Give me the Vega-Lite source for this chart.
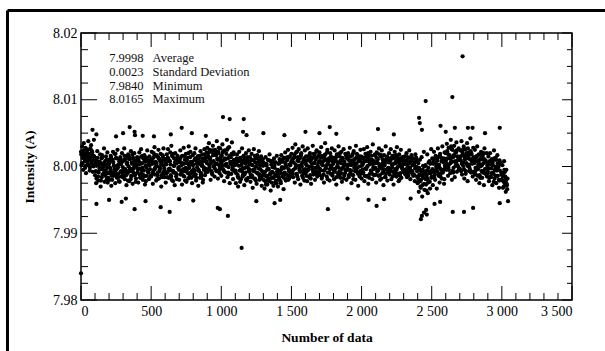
{
"$schema": "https://vega.github.io/schema/vega-lite/v6.json",
"width": 491, "height": 267,
"autosize": "none",
"padding": {"left": 81, "top": 33, "right": 33, "bottom": 51},
"background": "white",
"config": {
 "view": {"stroke": "black", "strokeWidth": 1.5},
 "axis": {"domain": false, "grid": false, "ticks": false, "labelColor": "black", "labelFont": "Liberation Serif", "labelFontSize": 14, "titleFont": "Liberation Serif", "titleFontSize": 13.5, "titleFontWeight": "bold", "titleColor": "black"}
},
"datasets": {
"pts": [
{"n":0,"v":8.0022},{"n":4,"v":8.0002},{"n":8,"v":8.0030},{"n":12,"v":8.0013},{"n":16,"v":7.9995},{"n":20,"v":8.0035},{"n":24,"v":8.0017},{"n":28,"v":8.0008},{"n":32,"v":8.0028},{"n":36,"v":7.9990},{"n":40,"v":8.0015},{"n":44,"v":8.0024},{"n":48,"v":8.0004},{"n":52,"v":8.0038},{"n":56,"v":8.0010},{"n":60,"v":8.0019},{"n":64,"v":7.9998},{"n":68,"v":8.0026},{"n":72,"v":8.0032},{"n":76,"v":8.0006},{"n":80,"v":8.0021},{"n":84,"v":7.9992},{"n":88,"v":8.0016},{"n":92,"v":8.0040},{"n":96,"v":8.0009},
{"n":100,"v":7.9987},{"n":104,"v":8.0012},{"n":108,"v":7.9975},{"n":112,"v":8.0001},{"n":116,"v":8.0023},{"n":120,"v":7.9992},{"n":124,"v":7.9979},{"n":128,"v":8.0006},{"n":132,"v":7.9997},{"n":136,"v":8.0018},{"n":140,"v":7.9970},{"n":144,"v":8.0004},{"n":148,"v":7.9984},{"n":152,"v":8.0014},{"n":156,"v":7.9999},{"n":160,"v":7.9989},{"n":164,"v":8.0027},{"n":168,"v":7.9977},{"n":172,"v":8.0008},{"n":176,"v":7.9994},{"n":180,"v":8.0003},{"n":184,"v":7.9981},{"n":188,"v":8.0021},{"n":192,"v":7.9990},{"n":196,"v":8.0010},
{"n":200,"v":8.0005},{"n":204,"v":7.9980},{"n":208,"v":7.9998},{"n":212,"v":8.0016},{"n":216,"v":7.9971},{"n":220,"v":8.0010},{"n":224,"v":7.9991},{"n":228,"v":8.0022},{"n":232,"v":7.9986},{"n":236,"v":8.0001},{"n":240,"v":8.0019},{"n":244,"v":7.9975},{"n":248,"v":7.9994},{"n":252,"v":8.0012},{"n":256,"v":7.9983},{"n":260,"v":8.0025},{"n":264,"v":7.9999},{"n":268,"v":7.9989},{"n":272,"v":8.0008},{"n":276,"v":7.9977},{"n":280,"v":8.0014},{"n":284,"v":8.0003},{"n":288,"v":7.9985},{"n":292,"v":8.0020},{"n":296,"v":7.9992},
{"n":300,"v":7.9988},{"n":304,"v":8.0009},{"n":308,"v":8.0027},{"n":312,"v":7.9981},{"n":316,"v":7.9996},{"n":320,"v":8.0015},{"n":324,"v":7.9972},{"n":328,"v":8.0006},{"n":332,"v":7.9990},{"n":336,"v":8.0018},{"n":340,"v":8.0000},{"n":344,"v":7.9978},{"n":348,"v":8.0011},{"n":352,"v":7.9993},{"n":356,"v":8.0023},{"n":360,"v":7.9985},{"n":364,"v":8.0004},{"n":368,"v":7.9974},{"n":372,"v":8.0013},{"n":376,"v":7.9998},{"n":380,"v":8.0020},{"n":384,"v":7.9987},{"n":388,"v":8.0007},{"n":392,"v":7.9982},{"n":396,"v":8.0002},
{"n":400,"v":8.0014},{"n":404,"v":7.9991},{"n":408,"v":7.9976},{"n":412,"v":8.0008},{"n":416,"v":8.0021},{"n":420,"v":7.9997},{"n":424,"v":7.9984},{"n":428,"v":8.0026},{"n":432,"v":7.9989},{"n":436,"v":8.0005},{"n":440,"v":7.9980},{"n":444,"v":8.0012},{"n":448,"v":7.9994},{"n":452,"v":8.0017},{"n":456,"v":7.9973},{"n":460,"v":8.0001},{"n":464,"v":8.0010},{"n":468,"v":7.9986},{"n":472,"v":8.0024},{"n":476,"v":7.9992},{"n":480,"v":8.0003},{"n":484,"v":7.9981},{"n":488,"v":8.0015},{"n":492,"v":7.9996},{"n":496,"v":8.0009},
{"n":500,"v":7.9985},{"n":504,"v":8.0022},{"n":508,"v":8.0004},{"n":512,"v":7.9974},{"n":516,"v":8.0013},{"n":520,"v":7.9995},{"n":524,"v":8.0029},{"n":528,"v":7.9988},{"n":532,"v":8.0007},{"n":536,"v":7.9979},{"n":540,"v":8.0017},{"n":544,"v":8.0000},{"n":548,"v":7.9991},{"n":552,"v":8.0025},{"n":556,"v":7.9982},{"n":560,"v":8.0010},{"n":564,"v":7.9998},{"n":568,"v":8.0019},{"n":572,"v":7.9970},{"n":576,"v":8.0006},{"n":580,"v":7.9989},{"n":584,"v":8.0014},{"n":588,"v":8.0027},{"n":592,"v":7.9993},{"n":596,"v":7.9984},
{"n":600,"v":8.0011},{"n":604,"v":7.9976},{"n":608,"v":8.0003},{"n":612,"v":8.0018},{"n":616,"v":7.9992},{"n":620,"v":8.0026},{"n":624,"v":7.9983},{"n":628,"v":8.0008},{"n":632,"v":7.9997},{"n":636,"v":8.0021},{"n":640,"v":7.9987},{"n":644,"v":8.0031},{"n":648,"v":7.9994},{"n":652,"v":8.0015},{"n":656,"v":7.9978},{"n":660,"v":8.0001},{"n":664,"v":8.0012},{"n":668,"v":7.9972},{"n":672,"v":8.0020},{"n":676,"v":7.9990},{"n":680,"v":8.0005},{"n":684,"v":7.9981},{"n":688,"v":8.0016},{"n":692,"v":8.0009},{"n":696,"v":7.9999},
{"n":700,"v":7.9980},{"n":704,"v":8.0007},{"n":708,"v":8.0024},{"n":712,"v":7.9989},{"n":716,"v":8.0002},{"n":720,"v":7.9973},{"n":724,"v":8.0016},{"n":728,"v":7.9996},{"n":732,"v":8.0028},{"n":736,"v":7.9985},{"n":740,"v":8.0010},{"n":744,"v":7.9993},{"n":748,"v":8.0019},{"n":752,"v":7.9977},{"n":756,"v":8.0005},{"n":760,"v":8.0013},{"n":764,"v":7.9982},{"n":768,"v":8.0030},{"n":772,"v":7.9998},{"n":776,"v":7.9988},{"n":780,"v":8.0022},{"n":784,"v":7.9991},{"n":788,"v":8.0006},{"n":792,"v":7.9975},{"n":796,"v":8.0017},
{"n":800,"v":8.0003},{"n":804,"v":7.9986},{"n":808,"v":8.0020},{"n":812,"v":7.9994},{"n":816,"v":8.0027},{"n":820,"v":7.9979},{"n":824,"v":8.0009},{"n":828,"v":7.9999},{"n":832,"v":8.0015},{"n":836,"v":7.9971},{"n":840,"v":8.0012},{"n":844,"v":8.0004},{"n":848,"v":7.9983},{"n":852,"v":8.0023},{"n":856,"v":7.9990},{"n":860,"v":8.0001},{"n":864,"v":8.0018},{"n":868,"v":7.9976},{"n":872,"v":8.0008},{"n":876,"v":7.9995},{"n":880,"v":8.0026},{"n":884,"v":7.9987},{"n":888,"v":8.0014},{"n":892,"v":7.9992},{"n":896,"v":8.0021},
{"n":900,"v":8.0028},{"n":904,"v":7.9992},{"n":908,"v":8.0015},{"n":912,"v":8.0035},{"n":916,"v":7.9998},{"n":920,"v":8.0010},{"n":924,"v":7.9980},{"n":928,"v":8.0022},{"n":932,"v":8.0006},{"n":936,"v":7.9988},{"n":940,"v":8.0031},{"n":944,"v":8.0000},{"n":948,"v":8.0018},{"n":952,"v":7.9985},{"n":956,"v":8.0025},{"n":960,"v":8.0004},{"n":964,"v":7.9994},{"n":968,"v":8.0038},{"n":972,"v":8.0012},{"n":976,"v":7.9982},{"n":980,"v":8.0020},{"n":984,"v":8.0002},{"n":988,"v":7.9990},{"n":992,"v":8.0027},{"n":996,"v":8.0008},
{"n":1000,"v":7.9986},{"n":1004,"v":8.0016},{"n":1008,"v":8.0033},{"n":1012,"v":7.9996},{"n":1016,"v":8.0009},{"n":1020,"v":7.9978},{"n":1024,"v":8.0024},{"n":1028,"v":8.0003},{"n":1032,"v":7.9991},{"n":1036,"v":8.0019},{"n":1040,"v":8.0040},{"n":1044,"v":7.9984},{"n":1048,"v":8.0012},{"n":1052,"v":7.9999},{"n":1056,"v":8.0029},{"n":1060,"v":7.9975},{"n":1064,"v":8.0007},{"n":1068,"v":8.0014},{"n":1072,"v":7.9989},{"n":1076,"v":8.0036},{"n":1080,"v":8.0001},{"n":1084,"v":7.9981},{"n":1088,"v":8.0021},{"n":1092,"v":8.0005},{"n":1096,"v":7.9993},
{"n":1100,"v":8.0010},{"n":1104,"v":7.9975},{"n":1108,"v":8.0004},{"n":1112,"v":8.0018},{"n":1116,"v":7.9988},{"n":1120,"v":7.9970},{"n":1124,"v":8.0008},{"n":1128,"v":8.0022},{"n":1132,"v":7.9994},{"n":1136,"v":8.0013},{"n":1140,"v":7.9981},{"n":1144,"v":8.0001},{"n":1148,"v":8.0027},{"n":1152,"v":7.9985},{"n":1156,"v":7.9997},{"n":1160,"v":8.0016},{"n":1164,"v":7.9972},{"n":1168,"v":8.0006},{"n":1172,"v":7.9991},{"n":1176,"v":8.0020},{"n":1180,"v":7.9979},{"n":1184,"v":8.0011},{"n":1188,"v":7.9999},{"n":1192,"v":7.9983},{"n":1196,"v":8.0024},
{"n":1200,"v":7.9992},{"n":1204,"v":8.0014},{"n":1208,"v":7.9977},{"n":1212,"v":8.0003},{"n":1216,"v":8.0019},{"n":1220,"v":7.9986},{"n":1224,"v":7.9968},{"n":1228,"v":8.0009},{"n":1232,"v":8.0026},{"n":1236,"v":7.9996},{"n":1240,"v":7.9982},{"n":1244,"v":8.0012},{"n":1248,"v":8.0000},{"n":1252,"v":7.9974},{"n":1256,"v":8.0017},{"n":1260,"v":7.9990},{"n":1264,"v":8.0007},{"n":1268,"v":8.0023},{"n":1272,"v":7.9980},{"n":1276,"v":8.0002},{"n":1280,"v":7.9987},{"n":1284,"v":8.0015},{"n":1288,"v":7.9971},{"n":1292,"v":8.0006},{"n":1296,"v":8.0011},
{"n":1300,"v":7.9980},{"n":1304,"v":8.0005},{"n":1308,"v":7.9967},{"n":1312,"v":7.9992},{"n":1316,"v":8.0014},{"n":1320,"v":7.9985},{"n":1324,"v":8.0001},{"n":1328,"v":7.9973},{"n":1332,"v":8.0010},{"n":1336,"v":7.9996},{"n":1340,"v":7.9978},{"n":1344,"v":8.0018},{"n":1348,"v":7.9988},{"n":1352,"v":7.9964},{"n":1356,"v":8.0003},{"n":1360,"v":7.9983},{"n":1364,"v":8.0008},{"n":1368,"v":7.9991},{"n":1372,"v":7.9971},{"n":1376,"v":8.0012},{"n":1380,"v":7.9998},{"n":1384,"v":7.9976},{"n":1388,"v":8.0006},{"n":1392,"v":7.9986},{"n":1396,"v":8.0016},
{"n":1400,"v":7.9989},{"n":1404,"v":7.9970},{"n":1408,"v":8.0004},{"n":1412,"v":7.9981},{"n":1416,"v":8.0011},{"n":1420,"v":7.9994},{"n":1424,"v":7.9975},{"n":1428,"v":8.0017},{"n":1432,"v":7.9999},{"n":1436,"v":7.9985},{"n":1440,"v":8.0007},{"n":1444,"v":7.9966},{"n":1448,"v":8.0013},{"n":1452,"v":7.9991},{"n":1456,"v":8.0021},{"n":1460,"v":7.9979},{"n":1464,"v":8.0000},{"n":1468,"v":8.0009},{"n":1472,"v":7.9987},{"n":1476,"v":8.0025},{"n":1480,"v":7.9996},{"n":1484,"v":7.9982},{"n":1488,"v":8.0015},{"n":1492,"v":8.0002},{"n":1496,"v":7.9992},
{"n":1500,"v":8.0019},{"n":1504,"v":7.9993},{"n":1508,"v":8.0028},{"n":1512,"v":7.9984},{"n":1516,"v":8.0006},{"n":1520,"v":8.0014},{"n":1524,"v":7.9976},{"n":1528,"v":8.0033},{"n":1532,"v":8.0000},{"n":1536,"v":7.9989},{"n":1540,"v":8.0022},{"n":1544,"v":8.0009},{"n":1548,"v":7.9981},{"n":1552,"v":8.0026},{"n":1556,"v":7.9997},{"n":1560,"v":8.0012},{"n":1564,"v":7.9973},{"n":1568,"v":8.0017},{"n":1572,"v":8.0003},{"n":1576,"v":7.9986},{"n":1580,"v":8.0030},{"n":1584,"v":7.9995},{"n":1588,"v":8.0008},{"n":1592,"v":7.9979},{"n":1596,"v":8.0024},
{"n":1600,"v":7.9990},{"n":1604,"v":8.0015},{"n":1608,"v":8.0002},{"n":1612,"v":7.9978},{"n":1616,"v":8.0027},{"n":1620,"v":7.9996},{"n":1624,"v":8.0011},{"n":1628,"v":7.9984},{"n":1632,"v":8.0020},{"n":1636,"v":8.0007},{"n":1640,"v":7.9974},{"n":1644,"v":8.0013},{"n":1648,"v":7.9999},{"n":1652,"v":8.0031},{"n":1656,"v":7.9988},{"n":1660,"v":8.0005},{"n":1664,"v":8.0018},{"n":1668,"v":7.9980},{"n":1672,"v":8.0010},{"n":1676,"v":7.9993},{"n":1680,"v":8.0024},{"n":1684,"v":7.9985},{"n":1688,"v":8.0001},{"n":1692,"v":8.0016},{"n":1696,"v":7.9991},
{"n":1700,"v":8.0021},{"n":1704,"v":7.9987},{"n":1708,"v":8.0006},{"n":1712,"v":8.0029},{"n":1716,"v":7.9982},{"n":1720,"v":8.0003},{"n":1724,"v":8.0014},{"n":1728,"v":7.9994},{"n":1732,"v":7.9976},{"n":1736,"v":8.0017},{"n":1740,"v":8.0035},{"n":1744,"v":7.9998},{"n":1748,"v":8.0009},{"n":1752,"v":7.9985},{"n":1756,"v":8.0025},{"n":1760,"v":7.9991},{"n":1764,"v":8.0004},{"n":1768,"v":8.0012},{"n":1772,"v":7.9979},{"n":1776,"v":8.0020},{"n":1780,"v":8.0000},{"n":1784,"v":7.9988},{"n":1788,"v":8.0027},{"n":1792,"v":8.0008},{"n":1796,"v":7.9996},
{"n":1800,"v":8.0013},{"n":1804,"v":7.9981},{"n":1808,"v":8.0024},{"n":1812,"v":7.9997},{"n":1816,"v":8.0008},{"n":1820,"v":7.9973},{"n":1824,"v":8.0018},{"n":1828,"v":8.0001},{"n":1832,"v":7.9989},{"n":1836,"v":8.0030},{"n":1840,"v":7.9992},{"n":1844,"v":8.0015},{"n":1848,"v":7.9983},{"n":1852,"v":8.0005},{"n":1856,"v":8.0022},{"n":1860,"v":7.9977},{"n":1864,"v":8.0010},{"n":1868,"v":7.9999},{"n":1872,"v":8.0026},{"n":1876,"v":7.9986},{"n":1880,"v":8.0003},{"n":1884,"v":8.0019},{"n":1888,"v":7.9994},{"n":1892,"v":7.9980},{"n":1896,"v":8.0012},
{"n":1900,"v":7.9995},{"n":1904,"v":8.0020},{"n":1908,"v":7.9984},{"n":1912,"v":8.0009},{"n":1916,"v":8.0028},{"n":1920,"v":7.9990},{"n":1924,"v":8.0002},{"n":1928,"v":7.9975},{"n":1932,"v":8.0016},{"n":1936,"v":8.0006},{"n":1940,"v":7.9987},{"n":1944,"v":8.0023},{"n":1948,"v":7.9998},{"n":1952,"v":8.0011},{"n":1956,"v":7.9980},{"n":1960,"v":8.0031},{"n":1964,"v":8.0004},{"n":1968,"v":7.9992},{"n":1972,"v":8.0017},{"n":1976,"v":7.9971},{"n":1980,"v":8.0013},{"n":1984,"v":8.0000},{"n":1988,"v":7.9988},{"n":1992,"v":8.0025},{"n":1996,"v":8.0007},
{"n":2000,"v":7.9982},{"n":2004,"v":8.0014},{"n":2008,"v":8.0003},{"n":2012,"v":7.9991},{"n":2016,"v":8.0026},{"n":2020,"v":7.9978},{"n":2024,"v":8.0010},{"n":2028,"v":8.0019},{"n":2032,"v":7.9996},{"n":2036,"v":7.9985},{"n":2040,"v":8.0029},{"n":2044,"v":8.0001},{"n":2048,"v":7.9974},{"n":2052,"v":8.0012},{"n":2056,"v":8.0007},{"n":2060,"v":7.9989},{"n":2064,"v":8.0022},{"n":2068,"v":7.9994},{"n":2072,"v":8.0016},{"n":2076,"v":7.9981},{"n":2080,"v":8.0033},{"n":2084,"v":7.9999},{"n":2088,"v":8.0008},{"n":2092,"v":7.9987},{"n":2096,"v":8.0018},
{"n":2100,"v":8.0005},{"n":2104,"v":7.9976},{"n":2108,"v":8.0021},{"n":2112,"v":7.9993},{"n":2116,"v":8.0011},{"n":2120,"v":7.9986},{"n":2124,"v":8.0027},{"n":2128,"v":8.0000},{"n":2132,"v":7.9980},{"n":2136,"v":8.0015},{"n":2140,"v":7.9997},{"n":2144,"v":8.0024},{"n":2148,"v":7.9990},{"n":2152,"v":8.0006},{"n":2156,"v":7.9972},{"n":2160,"v":8.0017},{"n":2164,"v":8.0002},{"n":2168,"v":7.9984},{"n":2172,"v":8.0030},{"n":2176,"v":7.9995},{"n":2180,"v":8.0009},{"n":2184,"v":7.9979},{"n":2188,"v":8.0013},{"n":2192,"v":7.9998},{"n":2196,"v":8.0020},
{"n":2200,"v":7.9988},{"n":2204,"v":8.0008},{"n":2208,"v":8.0026},{"n":2212,"v":7.9981},{"n":2216,"v":8.0003},{"n":2220,"v":8.0016},{"n":2224,"v":7.9992},{"n":2228,"v":7.9973},{"n":2232,"v":8.0012},{"n":2236,"v":8.0022},{"n":2240,"v":7.9996},{"n":2244,"v":8.0007},{"n":2248,"v":7.9985},{"n":2252,"v":8.0029},{"n":2256,"v":7.9999},{"n":2260,"v":8.0011},{"n":2264,"v":7.9978},{"n":2268,"v":8.0018},{"n":2272,"v":8.0004},{"n":2276,"v":7.9990},{"n":2280,"v":8.0025},{"n":2284,"v":7.9983},{"n":2288,"v":8.0000},{"n":2292,"v":8.0014},{"n":2296,"v":7.9994},
{"n":2300,"v":8.0010},{"n":2304,"v":7.9994},{"n":2308,"v":8.0015},{"n":2312,"v":7.9988},{"n":2316,"v":8.0004},{"n":2320,"v":8.0020},{"n":2324,"v":7.9984},{"n":2328,"v":8.0001},{"n":2332,"v":7.9992},{"n":2336,"v":8.0013},{"n":2340,"v":8.0024},{"n":2344,"v":7.9997},{"n":2348,"v":7.9981},{"n":2352,"v":8.0008},{"n":2356,"v":8.0017},{"n":2360,"v":7.9990},{"n":2364,"v":8.0002},{"n":2368,"v":7.9986},{"n":2372,"v":8.0012},{"n":2376,"v":8.0006},{"n":2380,"v":7.9978},{"n":2384,"v":8.0018},{"n":2388,"v":7.9999},{"n":2392,"v":8.0009},{"n":2396,"v":7.9993},
{"n":2400,"v":7.9975},{"n":2404,"v":8.0005},{"n":2408,"v":7.9962},{"n":2412,"v":7.9988},{"n":2416,"v":8.0010},{"n":2420,"v":7.9970},{"n":2424,"v":7.9980},{"n":2428,"v":8.0014},{"n":2432,"v":7.9955},{"n":2436,"v":7.9995},{"n":2440,"v":7.9983},{"n":2444,"v":8.0022},{"n":2448,"v":7.9965},{"n":2452,"v":7.9992},{"n":2456,"v":8.0002},{"n":2460,"v":7.9973},{"n":2464,"v":7.9986},{"n":2468,"v":8.0018},{"n":2472,"v":7.9960},{"n":2476,"v":7.9998},{"n":2480,"v":7.9978},{"n":2484,"v":8.0008},{"n":2488,"v":7.9967},{"n":2492,"v":7.9990},{"n":2496,"v":8.0026},
{"n":2500,"v":7.9985},{"n":2504,"v":8.0012},{"n":2508,"v":7.9972},{"n":2512,"v":8.0004},{"n":2516,"v":8.0022},{"n":2520,"v":7.9993},{"n":2524,"v":7.9980},{"n":2528,"v":8.0016},{"n":2532,"v":8.0000},{"n":2536,"v":7.9967},{"n":2540,"v":8.0009},{"n":2544,"v":8.0027},{"n":2548,"v":7.9989},{"n":2552,"v":8.0003},{"n":2556,"v":7.9976},{"n":2560,"v":8.0019},{"n":2564,"v":7.9996},{"n":2568,"v":8.0013},{"n":2572,"v":7.9982},{"n":2576,"v":8.0030},{"n":2580,"v":7.9991},{"n":2584,"v":8.0006},{"n":2588,"v":7.9974},{"n":2592,"v":8.0021},{"n":2596,"v":7.9998},
{"n":2600,"v":8.0020},{"n":2604,"v":7.9995},{"n":2608,"v":8.0034},{"n":2612,"v":8.0012},{"n":2616,"v":7.9986},{"n":2620,"v":8.0028},{"n":2624,"v":8.0003},{"n":2628,"v":8.0017},{"n":2632,"v":7.9990},{"n":2636,"v":8.0040},{"n":2640,"v":8.0008},{"n":2644,"v":7.9980},{"n":2648,"v":8.0025},{"n":2652,"v":8.0014},{"n":2656,"v":7.9998},{"n":2660,"v":8.0031},{"n":2664,"v":7.9984},{"n":2668,"v":8.0022},{"n":2672,"v":8.0006},{"n":2676,"v":8.0036},{"n":2680,"v":7.9992},{"n":2684,"v":8.0015},{"n":2688,"v":8.0000},{"n":2692,"v":8.0027},{"n":2696,"v":8.0010},
{"n":2700,"v":7.9996},{"n":2704,"v":8.0024},{"n":2708,"v":8.0009},{"n":2712,"v":8.0038},{"n":2716,"v":7.9988},{"n":2720,"v":8.0018},{"n":2724,"v":8.0001},{"n":2728,"v":8.0030},{"n":2732,"v":7.9982},{"n":2736,"v":8.0013},{"n":2740,"v":8.0026},{"n":2744,"v":7.9993},{"n":2748,"v":8.0005},{"n":2752,"v":8.0035},{"n":2756,"v":7.9978},{"n":2760,"v":8.0016},{"n":2764,"v":8.0021},{"n":2768,"v":7.9999},{"n":2772,"v":8.0011},{"n":2776,"v":8.0042},{"n":2780,"v":7.9991},{"n":2784,"v":8.0019},{"n":2788,"v":8.0004},{"n":2792,"v":7.9985},{"n":2796,"v":8.0028},
{"n":2800,"v":8.0014},{"n":2804,"v":7.9990},{"n":2808,"v":8.0025},{"n":2812,"v":7.9998},{"n":2816,"v":7.9980},{"n":2820,"v":8.0008},{"n":2824,"v":8.0030},{"n":2828,"v":7.9986},{"n":2832,"v":8.0003},{"n":2836,"v":8.0018},{"n":2840,"v":7.9975},{"n":2844,"v":8.0011},{"n":2848,"v":8.0000},{"n":2852,"v":8.0022},{"n":2856,"v":7.9993},{"n":2860,"v":7.9983},{"n":2864,"v":8.0016},{"n":2868,"v":8.0005},{"n":2872,"v":7.9972},{"n":2876,"v":8.0027},{"n":2880,"v":7.9996},{"n":2884,"v":8.0009},{"n":2888,"v":7.9988},{"n":2892,"v":8.0020},{"n":2896,"v":8.0001},
{"n":2900,"v":7.9992},{"n":2904,"v":8.0015},{"n":2908,"v":7.9978},{"n":2912,"v":8.0004},{"n":2916,"v":8.0020},{"n":2920,"v":7.9985},{"n":2924,"v":7.9997},{"n":2928,"v":8.0011},{"n":2932,"v":7.9972},{"n":2936,"v":8.0007},{"n":2940,"v":7.9989},{"n":2944,"v":8.0024},{"n":2948,"v":7.9982},{"n":2952,"v":8.0000},{"n":2956,"v":8.0013},{"n":2960,"v":7.9975},{"n":2964,"v":7.9994},{"n":2968,"v":8.0017},{"n":2972,"v":7.9986},{"n":2976,"v":8.0002},{"n":2980,"v":7.9968},{"n":2984,"v":8.0009},{"n":2988,"v":7.9980},{"n":2992,"v":8.0005},{"n":2996,"v":7.9991},
{"n":3000,"v":7.9980},{"n":3004,"v":8.0002},{"n":3008,"v":7.9968},{"n":3012,"v":7.9990},{"n":3016,"v":8.0008},{"n":3020,"v":7.9975},{"n":3024,"v":7.9985},{"n":3028,"v":7.9962},{"n":3032,"v":7.9995},{"n":3036,"v":7.9972},{"n":3040,"v":7.9982},
{"n":2,"v":8.0018},{"n":10,"v":8.0005},{"n":18,"v":8.0024},{"n":26,"v":8.0011},{"n":34,"v":8.0001},{"n":42,"v":8.0020},{"n":50,"v":8.0014},{"n":58,"v":8.0003},{"n":66,"v":8.0027},{"n":74,"v":8.0009},{"n":82,"v":8.0016},{"n":90,"v":8.0000},{"n":98,"v":8.0012},
{"n":106,"v":7.9993},{"n":114,"v":8.0008},{"n":122,"v":7.9985},{"n":130,"v":8.0002},{"n":138,"v":7.9996},{"n":146,"v":8.0012},{"n":154,"v":7.9988},{"n":162,"v":8.0005},{"n":170,"v":7.9991},{"n":178,"v":8.0015},{"n":186,"v":7.9998},{"n":194,"v":7.9983},
{"n":202,"v":8.0007},{"n":210,"v":7.9994},{"n":218,"v":7.9986},{"n":226,"v":8.0010},{"n":234,"v":8.0001},{"n":242,"v":7.9990},{"n":250,"v":8.0013},{"n":258,"v":7.9997},{"n":266,"v":7.9984},{"n":274,"v":8.0004},{"n":282,"v":7.9992},{"n":290,"v":8.0009},{"n":298,"v":7.9999},
{"n":306,"v":7.9995},{"n":314,"v":8.0011},{"n":322,"v":7.9987},{"n":330,"v":8.0003},{"n":338,"v":7.9993},{"n":346,"v":8.0014},{"n":354,"v":7.9981},{"n":362,"v":8.0006},{"n":370,"v":7.9996},{"n":378,"v":8.0010},{"n":386,"v":7.9989},{"n":394,"v":8.0000},
{"n":402,"v":7.9997},{"n":410,"v":8.0012},{"n":418,"v":7.9988},{"n":426,"v":8.0004},{"n":434,"v":7.9994},{"n":442,"v":8.0016},{"n":450,"v":7.9985},{"n":458,"v":8.0007},{"n":466,"v":7.9998},{"n":474,"v":8.0010},{"n":482,"v":7.9991},{"n":490,"v":8.0002},{"n":498,"v":7.9986},
{"n":506,"v":8.0008},{"n":514,"v":7.9992},{"n":522,"v":8.0015},{"n":530,"v":7.9999},{"n":538,"v":8.0005},{"n":546,"v":7.9987},{"n":554,"v":8.0012},{"n":562,"v":7.9995},{"n":570,"v":8.0003},{"n":578,"v":7.9984},{"n":586,"v":8.0010},{"n":594,"v":7.9997},
{"n":602,"v":8.0004},{"n":610,"v":7.9990},{"n":618,"v":8.0013},{"n":626,"v":7.9996},{"n":634,"v":8.0008},{"n":642,"v":7.9985},{"n":650,"v":8.0017},{"n":658,"v":7.9993},{"n":666,"v":8.0001},{"n":674,"v":8.0011},{"n":682,"v":7.9988},{"n":690,"v":8.0006},{"n":698,"v":7.9995},
{"n":706,"v":8.0012},{"n":714,"v":7.9994},{"n":722,"v":8.0005},{"n":730,"v":7.9986},{"n":738,"v":8.0016},{"n":746,"v":7.9998},{"n":754,"v":8.0009},{"n":762,"v":7.9990},{"n":770,"v":8.0002},{"n":778,"v":8.0014},{"n":786,"v":7.9983},{"n":794,"v":8.0007},
{"n":802,"v":7.9996},{"n":810,"v":8.0010},{"n":818,"v":7.9988},{"n":826,"v":8.0004},{"n":834,"v":8.0015},{"n":842,"v":7.9993},{"n":850,"v":8.0007},{"n":858,"v":7.9985},{"n":866,"v":8.0012},{"n":874,"v":7.9999},{"n":882,"v":8.0018},{"n":890,"v":7.9991},{"n":898,"v":8.0005},
{"n":906,"v":8.0020},{"n":914,"v":8.0002},{"n":922,"v":8.0013},{"n":930,"v":7.9993},{"n":938,"v":8.0024},{"n":946,"v":8.0008},{"n":954,"v":7.9997},{"n":962,"v":8.0017},{"n":970,"v":8.0004},{"n":978,"v":8.0022},{"n":986,"v":7.9995},{"n":994,"v":8.0011},
{"n":1002,"v":8.0006},{"n":1010,"v":8.0021},{"n":1018,"v":7.9994},{"n":1026,"v":8.0012},{"n":1034,"v":8.0001},{"n":1042,"v":8.0025},{"n":1050,"v":7.9991},{"n":1058,"v":8.0015},{"n":1066,"v":8.0004},{"n":1074,"v":8.0019},{"n":1082,"v":7.9997},{"n":1090,"v":8.0010},{"n":1098,"v":8.0002},
{"n":1106,"v":7.9990},{"n":1114,"v":8.0007},{"n":1122,"v":7.9983},{"n":1130,"v":8.0012},{"n":1138,"v":7.9995},{"n":1146,"v":8.0004},{"n":1154,"v":7.9987},{"n":1162,"v":8.0010},{"n":1170,"v":7.9998},{"n":1178,"v":7.9981},{"n":1186,"v":8.0014},{"n":1194,"v":7.9993},
{"n":1202,"v":8.0003},{"n":1210,"v":7.9988},{"n":1218,"v":8.0010},{"n":1226,"v":7.9995},{"n":1234,"v":7.9982},{"n":1242,"v":8.0006},{"n":1250,"v":7.9991},{"n":1258,"v":8.0013},{"n":1266,"v":7.9997},{"n":1274,"v":7.9985},{"n":1282,"v":8.0008},{"n":1290,"v":7.9993},{"n":1298,"v":8.0001},
{"n":1306,"v":7.9990},{"n":1314,"v":7.9978},{"n":1322,"v":8.0004},{"n":1330,"v":7.9986},{"n":1338,"v":7.9996},{"n":1346,"v":7.9981},{"n":1354,"v":8.0008},{"n":1362,"v":7.9992},{"n":1370,"v":7.9983},{"n":1378,"v":8.0002},{"n":1386,"v":7.9988},{"n":1394,"v":7.9975},
{"n":1402,"v":7.9995},{"n":1410,"v":7.9984},{"n":1418,"v":8.0006},{"n":1426,"v":7.9990},{"n":1434,"v":8.0010},{"n":1442,"v":7.9987},{"n":1450,"v":7.9998},{"n":1458,"v":8.0004},{"n":1466,"v":7.9981},{"n":1474,"v":8.0012},{"n":1482,"v":7.9993},{"n":1490,"v":7.9986},{"n":1498,"v":8.0007},
{"n":1506,"v":8.0011},{"n":1514,"v":7.9995},{"n":1522,"v":8.0018},{"n":1530,"v":8.0003},{"n":1538,"v":7.9988},{"n":1546,"v":8.0014},{"n":1554,"v":8.0001},{"n":1562,"v":7.9992},{"n":1570,"v":8.0020},{"n":1578,"v":8.0006},{"n":1586,"v":7.9990},{"n":1594,"v":8.0010},
{"n":1602,"v":8.0004},{"n":1610,"v":7.9993},{"n":1618,"v":8.0015},{"n":1626,"v":8.0000},{"n":1634,"v":7.9987},{"n":1642,"v":8.0011},{"n":1650,"v":7.9996},{"n":1658,"v":8.0019},{"n":1666,"v":8.0005},{"n":1674,"v":7.9989},{"n":1682,"v":8.0013},{"n":1690,"v":7.9998},{"n":1698,"v":8.0008},
{"n":1706,"v":7.9994},{"n":1714,"v":8.0016},{"n":1722,"v":8.0002},{"n":1730,"v":7.9988},{"n":1738,"v":8.0012},{"n":1746,"v":7.9997},{"n":1754,"v":8.0021},{"n":1762,"v":8.0006},{"n":1770,"v":7.9991},{"n":1778,"v":8.0010},{"n":1786,"v":8.0001},{"n":1794,"v":7.9986},
{"n":1802,"v":8.0007},{"n":1810,"v":7.9992},{"n":1818,"v":8.0014},{"n":1826,"v":7.9999},{"n":1834,"v":8.0018},{"n":1842,"v":7.9987},{"n":1850,"v":8.0009},{"n":1858,"v":7.9996},{"n":1866,"v":8.0012},{"n":1874,"v":8.0003},{"n":1882,"v":7.9990},{"n":1890,"v":8.0016},{"n":1898,"v":8.0000},
{"n":1906,"v":8.0011},{"n":1914,"v":7.9995},{"n":1922,"v":8.0006},{"n":1930,"v":7.9988},{"n":1938,"v":8.0019},{"n":1946,"v":8.0002},{"n":1954,"v":7.9993},{"n":1962,"v":8.0013},{"n":1970,"v":7.9998},{"n":1978,"v":8.0008},{"n":1986,"v":7.9985},{"n":1994,"v":8.0015},
{"n":2002,"v":8.0001},{"n":2010,"v":7.9990},{"n":2018,"v":8.0012},{"n":2026,"v":7.9997},{"n":2034,"v":8.0008},{"n":2042,"v":7.9986},{"n":2050,"v":8.0016},{"n":2058,"v":8.0003},{"n":2066,"v":7.9994},{"n":2074,"v":8.0010},{"n":2082,"v":7.9988},{"n":2090,"v":8.0005},{"n":2098,"v":7.9998},
{"n":2106,"v":8.0013},{"n":2114,"v":7.9995},{"n":2122,"v":8.0004},{"n":2130,"v":7.9987},{"n":2138,"v":8.0017},{"n":2146,"v":8.0001},{"n":2154,"v":7.9992},{"n":2162,"v":8.0009},{"n":2170,"v":7.9984},{"n":2178,"v":8.0012},{"n":2186,"v":7.9997},{"n":2194,"v":8.0006},
{"n":2202,"v":7.9993},{"n":2210,"v":8.0011},{"n":2218,"v":7.9999},{"n":2226,"v":8.0016},{"n":2234,"v":7.9988},{"n":2242,"v":8.0005},{"n":2250,"v":7.9995},{"n":2258,"v":8.0013},{"n":2266,"v":8.0001},{"n":2274,"v":7.9986},{"n":2282,"v":8.0009},{"n":2290,"v":7.9997},{"n":2298,"v":8.0006},
{"n":2306,"v":8.0004},{"n":2314,"v":7.9995},{"n":2322,"v":8.0009},{"n":2330,"v":7.9990},{"n":2338,"v":8.0006},{"n":2346,"v":7.9998},{"n":2354,"v":8.0012},{"n":2362,"v":7.9993},{"n":2370,"v":8.0003},{"n":2378,"v":7.9987},{"n":2386,"v":8.0008},{"n":2394,"v":7.9999},
{"n":2402,"v":7.9985},{"n":2410,"v":7.9998},{"n":2418,"v":7.9978},{"n":2426,"v":7.9992},{"n":2434,"v":7.9972},{"n":2442,"v":7.9988},{"n":2450,"v":8.0000},{"n":2458,"v":7.9981},{"n":2466,"v":7.9994},{"n":2474,"v":7.9976},{"n":2482,"v":7.9990},{"n":2490,"v":8.0004},{"n":2498,"v":7.9983},
{"n":2506,"v":7.9996},{"n":2514,"v":8.0010},{"n":2522,"v":7.9988},{"n":2530,"v":8.0005},{"n":2538,"v":7.9993},{"n":2546,"v":8.0014},{"n":2554,"v":7.9999},{"n":2562,"v":7.9985},{"n":2570,"v":8.0008},{"n":2578,"v":7.9994},{"n":2586,"v":8.0012},{"n":2594,"v":8.0001},
{"n":2602,"v":8.0009},{"n":2610,"v":8.0023},{"n":2618,"v":7.9999},{"n":2626,"v":8.0014},{"n":2634,"v":8.0005},{"n":2642,"v":8.0026},{"n":2650,"v":7.9994},{"n":2658,"v":8.0017},{"n":2666,"v":8.0008},{"n":2674,"v":8.0021},{"n":2682,"v":8.0002},{"n":2690,"v":8.0013},{"n":2698,"v":7.9997},
{"n":2706,"v":8.0015},{"n":2714,"v":8.0004},{"n":2722,"v":8.0025},{"n":2730,"v":7.9996},{"n":2738,"v":8.0011},{"n":2746,"v":8.0020},{"n":2754,"v":8.0001},{"n":2762,"v":8.0016},{"n":2770,"v":7.9993},{"n":2778,"v":8.0023},{"n":2786,"v":8.0008},{"n":2794,"v":8.0012},
{"n":2802,"v":8.0005},{"n":2810,"v":7.9993},{"n":2818,"v":8.0014},{"n":2826,"v":7.9999},{"n":2834,"v":8.0008},{"n":2842,"v":7.9987},{"n":2850,"v":8.0017},{"n":2858,"v":8.0002},{"n":2866,"v":7.9991},{"n":2874,"v":8.0011},{"n":2882,"v":7.9996},{"n":2890,"v":8.0006},{"n":2898,"v":7.9989},
{"n":2906,"v":7.9997},{"n":2914,"v":8.0008},{"n":2922,"v":7.9984},{"n":2930,"v":8.0002},{"n":2938,"v":7.9991},{"n":2946,"v":8.0012},{"n":2954,"v":7.9986},{"n":2962,"v":7.9998},{"n":2970,"v":8.0005},{"n":2978,"v":7.9980},{"n":2986,"v":7.9994},{"n":2994,"v":8.0003},
{"n":3002,"v":7.9988},{"n":3010,"v":7.9978},{"n":3018,"v":7.9995},{"n":3026,"v":7.9983},{"n":3034,"v":7.9974},
{"n":6,"v":8.0004},{"n":14,"v":8.0021},{"n":22,"v":8.0012},{"n":30,"v":7.9998},{"n":38,"v":8.0026},{"n":46,"v":8.0008},{"n":54,"v":8.0017},{"n":62,"v":7.9994},{"n":70,"v":8.0013},{"n":78,"v":8.0023},{"n":86,"v":8.0002},{"n":94,"v":8.0015},
{"n":102,"v":8.0004},{"n":110,"v":7.9982},{"n":118,"v":8.0013},{"n":126,"v":7.9991},{"n":134,"v":8.0007},{"n":142,"v":7.9979},{"n":150,"v":8.0017},{"n":158,"v":7.9995},{"n":166,"v":8.0001},{"n":174,"v":7.9986},{"n":182,"v":8.0010},{"n":190,"v":7.9976},{"n":198,"v":8.0003},
{"n":206,"v":7.9990},{"n":214,"v":8.0014},{"n":222,"v":7.9980},{"n":230,"v":8.0006},{"n":238,"v":7.9996},{"n":246,"v":8.0019},{"n":254,"v":7.9987},{"n":262,"v":8.0002},{"n":270,"v":7.9978},{"n":278,"v":8.0011},{"n":286,"v":7.9993},{"n":294,"v":8.0007},
{"n":302,"v":7.9984},{"n":310,"v":8.0016},{"n":318,"v":7.9992},{"n":326,"v":8.0005},{"n":334,"v":7.9979},{"n":342,"v":8.0012},{"n":350,"v":7.9997},{"n":358,"v":7.9986},{"n":366,"v":8.0018},{"n":374,"v":7.9991},{"n":382,"v":8.0003},{"n":390,"v":7.9977},{"n":398,"v":8.0009},
{"n":406,"v":7.9995},{"n":414,"v":8.0003},{"n":422,"v":7.9983},{"n":430,"v":8.0015},{"n":438,"v":7.9998},{"n":446,"v":7.9987},{"n":454,"v":8.0009},{"n":462,"v":7.9978},{"n":470,"v":8.0013},{"n":478,"v":7.9994},{"n":486,"v":8.0006},{"n":494,"v":7.9985},
{"n":502,"v":8.0011},{"n":510,"v":7.9989},{"n":518,"v":8.0020},{"n":526,"v":7.9996},{"n":534,"v":8.0004},{"n":542,"v":7.9981},{"n":550,"v":8.0014},{"n":558,"v":7.9993},{"n":566,"v":8.0008},{"n":574,"v":7.9986},{"n":582,"v":8.0017},{"n":590,"v":8.0001},{"n":598,"v":7.9990},
{"n":606,"v":8.0007},{"n":614,"v":7.9984},{"n":622,"v":8.0012},{"n":630,"v":7.9994},{"n":638,"v":8.0003},{"n":646,"v":7.9980},{"n":654,"v":8.0019},{"n":662,"v":7.9991},{"n":670,"v":8.0006},{"n":678,"v":7.9985},{"n":686,"v":8.0013},{"n":694,"v":7.9997},
{"n":702,"v":8.0009},{"n":710,"v":7.9988},{"n":718,"v":8.0015},{"n":726,"v":7.9992},{"n":734,"v":8.0004},{"n":742,"v":7.9979},{"n":750,"v":8.0011},{"n":758,"v":7.9996},{"n":766,"v":8.0020},{"n":774,"v":7.9985},{"n":782,"v":8.0007},{"n":790,"v":7.9993},{"n":798,"v":8.0002},
{"n":806,"v":7.9990},{"n":814,"v":8.0012},{"n":822,"v":7.9983},{"n":830,"v":8.0006},{"n":838,"v":7.9995},{"n":846,"v":8.0016},{"n":854,"v":7.9988},{"n":862,"v":8.0003},{"n":870,"v":7.9980},{"n":878,"v":8.0010},{"n":886,"v":7.9997},{"n":894,"v":8.0008},
{"n":902,"v":8.0014},{"n":910,"v":7.9996},{"n":918,"v":8.0025},{"n":926,"v":8.0005},{"n":934,"v":7.9990},{"n":942,"v":8.0017},{"n":950,"v":8.0001},{"n":958,"v":8.0021},{"n":966,"v":7.9993},{"n":974,"v":8.0010},{"n":982,"v":8.0028},{"n":990,"v":7.9998},{"n":998,"v":8.0015},
{"n":1006,"v":8.0001},{"n":1014,"v":8.0023},{"n":1022,"v":7.9992},{"n":1030,"v":8.0011},{"n":1038,"v":8.0004},{"n":1046,"v":8.0027},{"n":1054,"v":7.9988},{"n":1062,"v":8.0016},{"n":1070,"v":8.0007},{"n":1078,"v":7.9995},{"n":1086,"v":8.0018},{"n":1094,"v":8.0002},
{"n":1102,"v":7.9994},{"n":1110,"v":8.0012},{"n":1118,"v":7.9985},{"n":1126,"v":8.0001},{"n":1134,"v":7.9977},{"n":1142,"v":8.0009},{"n":1150,"v":7.9992},{"n":1158,"v":8.0015},{"n":1166,"v":7.9988},{"n":1174,"v":8.0004},{"n":1182,"v":7.9980},{"n":1190,"v":8.0007},{"n":1198,"v":7.9996},
{"n":1206,"v":8.0008},{"n":1214,"v":7.9984},{"n":1222,"v":8.0002},{"n":1230,"v":7.9993},{"n":1238,"v":8.0016},{"n":1246,"v":7.9979},{"n":1254,"v":8.0005},{"n":1262,"v":7.9989},{"n":1270,"v":8.0011},{"n":1278,"v":7.9996},{"n":1286,"v":7.9983},{"n":1294,"v":8.0007},
{"n":1302,"v":7.9987},{"n":1310,"v":8.0004},{"n":1318,"v":7.9973},{"n":1326,"v":7.9995},{"n":1334,"v":7.9981},{"n":1342,"v":8.0009},{"n":1350,"v":7.9990},{"n":1358,"v":7.9976},{"n":1366,"v":7.9999},{"n":1374,"v":7.9984},{"n":1382,"v":8.0006},{"n":1390,"v":7.9979},{"n":1398,"v":7.9993},
{"n":1406,"v":7.9986},{"n":1414,"v":8.0005},{"n":1422,"v":7.9978},{"n":1430,"v":7.9996},{"n":1438,"v":8.0011},{"n":1446,"v":7.9983},{"n":1454,"v":7.9999},{"n":1462,"v":7.9988},{"n":1470,"v":8.0014},{"n":1478,"v":7.9980},{"n":1486,"v":8.0003},{"n":1494,"v":7.9991},
{"n":1502,"v":8.0006},{"n":1510,"v":7.9989},{"n":1518,"v":8.0013},{"n":1526,"v":7.9997},{"n":1534,"v":8.0021},{"n":1542,"v":7.9985},{"n":1550,"v":8.0008},{"n":1558,"v":7.9994},{"n":1566,"v":8.0016},{"n":1574,"v":8.0000},{"n":1582,"v":7.9983},{"n":1590,"v":8.0012},{"n":1598,"v":7.9996},
{"n":1606,"v":7.9986},{"n":1614,"v":8.0009},{"n":1622,"v":7.9995},{"n":1630,"v":8.0017},{"n":1638,"v":7.9982},{"n":1646,"v":8.0004},{"n":1654,"v":7.9992},{"n":1662,"v":8.0014},{"n":1670,"v":7.9998},{"n":1678,"v":8.0022},{"n":1686,"v":7.9990},{"n":1694,"v":8.0006},
{"n":1702,"v":7.9997},{"n":1710,"v":8.0013},{"n":1718,"v":7.9985},{"n":1726,"v":8.0008},{"n":1734,"v":7.9994},{"n":1742,"v":8.0018},{"n":1750,"v":8.0002},{"n":1758,"v":7.9981},{"n":1766,"v":8.0011},{"n":1774,"v":7.9996},{"n":1782,"v":8.0015},{"n":1790,"v":7.9989},{"n":1798,"v":8.0004},
{"n":1806,"v":7.9993},{"n":1814,"v":8.0010},{"n":1822,"v":7.9984},{"n":1830,"v":8.0006},{"n":1838,"v":7.9998},{"n":1846,"v":8.0020},{"n":1854,"v":7.9990},{"n":1862,"v":8.0013},{"n":1870,"v":7.9982},{"n":1878,"v":8.0007},{"n":1886,"v":7.9995},{"n":1894,"v":8.0016},
{"n":1902,"v":8.0003},{"n":1910,"v":7.9987},{"n":1918,"v":8.0015},{"n":1926,"v":7.9994},{"n":1934,"v":8.0009},{"n":1942,"v":7.9981},{"n":1950,"v":8.0005},{"n":1958,"v":7.9997},{"n":1966,"v":8.0019},{"n":1974,"v":7.9989},{"n":1982,"v":8.0008},{"n":1990,"v":7.9993},{"n":1998,"v":8.0012},
{"n":2006,"v":7.9995},{"n":2014,"v":8.0006},{"n":2022,"v":7.9986},{"n":2030,"v":8.0014},{"n":2038,"v":7.9999},{"n":2046,"v":8.0020},{"n":2054,"v":7.9983},{"n":2062,"v":8.0009},{"n":2070,"v":7.9991},{"n":2078,"v":8.0004},{"n":2086,"v":7.9996},{"n":2094,"v":8.0017},
{"n":2102,"v":7.9988},{"n":2110,"v":8.0007},{"n":2118,"v":7.9994},{"n":2126,"v":8.0018},{"n":2134,"v":8.0002},{"n":2142,"v":7.9982},{"n":2150,"v":8.0011},{"n":2158,"v":7.9996},{"n":2166,"v":8.0005},{"n":2174,"v":7.9989},{"n":2182,"v":8.0015},{"n":2190,"v":7.9993},{"n":2198,"v":8.0008},
{"n":2206,"v":7.9996},{"n":2214,"v":8.0013},{"n":2222,"v":7.9985},{"n":2230,"v":8.0004},{"n":2238,"v":7.9993},{"n":2246,"v":8.0017},{"n":2254,"v":7.9989},{"n":2262,"v":8.0007},{"n":2270,"v":7.9980},{"n":2278,"v":8.0012},{"n":2286,"v":7.9998},{"n":2294,"v":8.0003},
{"n":2302,"v":7.9991},{"n":2310,"v":8.0007},{"n":2318,"v":7.9996},{"n":2326,"v":8.0014},{"n":2334,"v":7.9986},{"n":2342,"v":8.0005},{"n":2350,"v":7.9994},{"n":2358,"v":8.0010},{"n":2366,"v":7.9989},{"n":2374,"v":8.0002},{"n":2382,"v":7.9997},{"n":2390,"v":8.0013},{"n":2398,"v":7.9984},
{"n":2406,"v":7.9980},{"n":2414,"v":7.9995},{"n":2422,"v":7.9968},{"n":2430,"v":7.9986},{"n":2438,"v":8.0001},{"n":2446,"v":7.9974},{"n":2454,"v":7.9989},{"n":2462,"v":7.9964},{"n":2470,"v":7.9982},{"n":2478,"v":8.0006},{"n":2486,"v":7.9977},{"n":2494,"v":7.9993},
{"n":2502,"v":7.9992},{"n":2510,"v":8.0006},{"n":2518,"v":7.9984},{"n":2526,"v":8.0013},{"n":2534,"v":7.9997},{"n":2542,"v":8.0002},{"n":2550,"v":7.9986},{"n":2558,"v":8.0017},{"n":2566,"v":7.9990},{"n":2574,"v":8.0008},{"n":2582,"v":7.9995},{"n":2590,"v":7.9981},{"n":2598,"v":8.0011},
{"n":2606,"v":8.0004},{"n":2614,"v":8.0019},{"n":2622,"v":7.9995},{"n":2630,"v":8.0012},{"n":2638,"v":8.0030},{"n":2646,"v":8.0007},{"n":2654,"v":7.9991},{"n":2662,"v":8.0016},{"n":2670,"v":8.0001},{"n":2678,"v":8.0024},{"n":2686,"v":8.0009},{"n":2694,"v":7.9996},
{"n":2702,"v":8.0010},{"n":2710,"v":7.9993},{"n":2718,"v":8.0022},{"n":2726,"v":8.0006},{"n":2734,"v":8.0015},{"n":2742,"v":7.9989},{"n":2750,"v":8.0012},{"n":2758,"v":8.0027},{"n":2766,"v":8.0003},{"n":2774,"v":7.9995},{"n":2782,"v":8.0018},{"n":2790,"v":8.0007},{"n":2798,"v":7.9992},
{"n":2806,"v":8.0009},{"n":2814,"v":7.9988},{"n":2822,"v":8.0016},{"n":2830,"v":7.9996},{"n":2838,"v":8.0004},{"n":2846,"v":7.9983},{"n":2854,"v":8.0011},{"n":2862,"v":7.9993},{"n":2870,"v":8.0020},{"n":2878,"v":7.9990},{"n":2886,"v":8.0006},{"n":2894,"v":7.9985},
{"n":2902,"v":7.9998},{"n":2910,"v":7.9983},{"n":2918,"v":8.0007},{"n":2926,"v":7.9990},{"n":2934,"v":8.0003},{"n":2942,"v":7.9977},{"n":2950,"v":7.9995},{"n":2958,"v":8.0010},{"n":2966,"v":7.9986},{"n":2974,"v":7.9999},{"n":2982,"v":7.9979},{"n":2990,"v":8.0004},{"n":2998,"v":7.9988},
{"n":3006,"v":7.9985},{"n":3014,"v":7.9970},{"n":3022,"v":7.9992},{"n":3030,"v":7.9979},{"n":3038,"v":7.9966},
{"n":82,"v":8.0055},{"n":347,"v":8.0059},{"n":382,"v":8.0052},{"n":385,"v":8.0047},{"n":110,"v":8.0048},{"n":250,"v":8.0045},{"n":300,"v":8.0050},{"n":440,"v":8.0046},{"n":520,"v":8.0045},{"n":718,"v":8.0058},{"n":640,"v":8.0048},{"n":790,"v":8.0050},{"n":890,"v":8.0046},{"n":1012,"v":8.0074},{"n":1060,"v":8.0071},{"n":1160,"v":8.0071},{"n":1155,"v":8.0052},{"n":1180,"v":8.0047},{"n":1300,"v":8.0050},{"n":1450,"v":8.0047},{"n":1600,"v":8.0052},{"n":1773,"v":8.0059},{"n":1700,"v":8.0050},{"n":1820,"v":8.0049},{"n":2117,"v":8.0056},{"n":2230,"v":8.0048},{"n":2410,"v":8.0073},{"n":2415,"v":8.0065},{"n":2457,"v":8.0098},{"n":2563,"v":8.0061},{"n":2647,"v":8.0104},{"n":2665,"v":8.0058},{"n":2720,"v":8.0165},{"n":2758,"v":8.0058},{"n":2791,"v":8.0058},{"n":2985,"v":8.0058},{"n":2600,"v":8.0052},{"n":2880,"v":8.0050},{"n":2430,"v":8.0055},
{"n":0,"v":7.9840},{"n":110,"v":7.9944},{"n":382,"v":7.9936},{"n":568,"v":7.9939},{"n":632,"v":7.9932},{"n":975,"v":7.9938},{"n":990,"v":7.9936},{"n":1047,"v":7.9926},{"n":1145,"v":7.9878},{"n":1760,"v":7.9936},{"n":2107,"v":7.9941},{"n":2423,"v":7.9921},{"n":2430,"v":7.9926},{"n":2445,"v":7.9931},{"n":2460,"v":7.9935},{"n":2465,"v":7.9928},{"n":2650,"v":7.9932},{"n":2730,"v":7.9932},{"n":2795,"v":7.9938},{"n":2985,"v":7.9945},{"n":3044,"v":7.9948},{"n":200,"v":7.9950},{"n":290,"v":7.9947},{"n":320,"v":7.9952},{"n":460,"v":7.9948},{"n":700,"v":7.9951},{"n":800,"v":7.9949},{"n":1250,"v":7.9948},{"n":1380,"v":7.9945},{"n":1420,"v":7.9950},{"n":1900,"v":7.9952},{"n":2050,"v":7.9950},{"n":2160,"v":7.9951},{"n":2350,"v":7.9952},{"n":2520,"v":7.9944},{"n":2560,"v":7.9947}
],
"stats": [
{"n":446,"v":8.01625,"num":"7.9998","label":"Average"},
{"n":446,"v":8.01416,"num":"0.0023","label":"Standard  Deviation"},
{"n":446,"v":8.01206,"num":"7.9840","label":"Minimum"},
{"n":446,"v":8.01004,"num":"8.0165","label":"Maximum"}
],
"xmaj": [{"t":0},{"t":500},{"t":1000},{"t":1500},{"t":2000},{"t":2500},{"t":3000},{"t":3500}],
"xmin": [{"t":100},{"t":200},{"t":300},{"t":400},{"t":600},{"t":700},{"t":800},{"t":900},{"t":1100},{"t":1200},{"t":1300},{"t":1400},{"t":1600},{"t":1700},{"t":1800},{"t":1900},{"t":2100},{"t":2200},{"t":2300},{"t":2400},{"t":2600},{"t":2700},{"t":2800},{"t":2900},{"t":3100},{"t":3200},{"t":3300},{"t":3400}],
"ymaj": [{"t":7.98},{"t":7.99},{"t":8.0},{"t":8.01},{"t":8.02}],
"ymin": [{"t":7.9825},{"t":7.985},{"t":7.9875},{"t":7.9925},{"t":7.995},{"t":7.9975},{"t":8.0025},{"t":8.005},{"t":8.0075},{"t":8.0125},{"t":8.015},{"t":8.0175}],
"anchor": [{"n":0,"v":8.0}]
},
"layer": [
{
 "data": {"name": "pts"},
 "mark": {"type": "circle", "size": 18, "color": "#000", "opacity": 1},
 "encoding": {
  "x": {"field": "n", "type": "quantitative", "scale": {"domain": [0, 3500], "nice": false, "zero": false},
   "axis": {"orient": "bottom", "values": [0,500,1000,1500,2000,2500,3000,3500], "labelPadding": 4, "labelExpr": "replace(format(datum.value, ','), ',', ' ')", "title": "Number of data", "titlePadding": 12}},
  "y": {"field": "v", "type": "quantitative", "scale": {"domain": [7.98, 8.02], "nice": false, "zero": false},
   "axis": {"orient": "left", "values": [7.98,7.99,8.0,8.01,8.02], "format": ".2f", "labelPadding": 4, "title": "Intensity (A)", "titlePadding": 16}}
 }
},
{
 "data": {"name": "xmaj"},
 "mark": {"type": "rule", "color": "black", "strokeWidth": 1},
 "encoding": {"x": {"field": "t", "type": "quantitative", "axis": null}, "y": {"datum": 7.98, "axis": null}, "y2": {"datum": 7.9821}}
},
{
 "data": {"name": "xmin"},
 "mark": {"type": "rule", "color": "black", "strokeWidth": 1},
 "encoding": {"x": {"field": "t", "type": "quantitative", "axis": null}, "y": {"datum": 7.98, "axis": null}, "y2": {"datum": 7.98105}}
},
{
 "data": {"name": "xmaj"},
 "mark": {"type": "rule", "color": "black", "strokeWidth": 1},
 "encoding": {"x": {"field": "t", "type": "quantitative", "axis": null}, "y": {"datum": 8.02, "axis": null}, "y2": {"datum": 8.0179}}
},
{
 "data": {"name": "xmin"},
 "mark": {"type": "rule", "color": "black", "strokeWidth": 1},
 "encoding": {"x": {"field": "t", "type": "quantitative", "axis": null}, "y": {"datum": 8.02, "axis": null}, "y2": {"datum": 8.01895}}
},
{
 "data": {"name": "ymaj"},
 "mark": {"type": "rule", "color": "black", "strokeWidth": 1},
 "encoding": {"y": {"field": "t", "type": "quantitative", "axis": null}, "x": {"datum": 0, "axis": null}, "x2": {"datum": 114}}
},
{
 "data": {"name": "ymin"},
 "mark": {"type": "rule", "color": "black", "strokeWidth": 1},
 "encoding": {"y": {"field": "t", "type": "quantitative", "axis": null}, "x": {"datum": 0, "axis": null}, "x2": {"datum": 50}}
},
{
 "data": {"name": "ymaj"},
 "mark": {"type": "rule", "color": "black", "strokeWidth": 1},
 "encoding": {"y": {"field": "t", "type": "quantitative", "axis": null}, "x": {"datum": 3500, "axis": null}, "x2": {"datum": 3429}}
},
{
 "data": {"name": "ymin"},
 "mark": {"type": "rule", "color": "black", "strokeWidth": 1},
 "encoding": {"y": {"field": "t", "type": "quantitative", "axis": null}, "x": {"datum": 3500, "axis": null}, "x2": {"datum": 3464}}
},
{
 "data": {"name": "anchor"},
 "mark": {"type": "rule", "color": "black", "strokeWidth": 3},
 "encoding": {"x": {"datum": -524, "axis": null}, "y": {"datum": 8.02337, "axis": null}, "y2": {"datum": 7.96}}
},
{
 "data": {"name": "anchor"},
 "mark": {"type": "rule", "color": "black", "strokeWidth": 3},
 "encoding": {"x": {"datum": -524, "axis": null}, "x2": {"datum": 3800}, "y": {"datum": 8.02337, "axis": null}}
},
{
 "data": {"name": "stats"},
 "mark": {"type": "text", "align": "right", "baseline": "middle", "font": "Liberation Serif", "fontSize": 12.5, "color": "#111"},
 "encoding": {
  "x": {"field": "n", "type": "quantitative", "axis": null},
  "y": {"field": "v", "type": "quantitative", "axis": null},
  "text": {"field": "num"}
 }
},
{
 "data": {"name": "stats"},
 "mark": {"type": "text", "align": "left", "baseline": "middle", "dx": 9, "font": "Liberation Serif", "fontSize": 12.5, "color": "#111"},
 "encoding": {
  "x": {"field": "n", "type": "quantitative", "axis": null},
  "y": {"field": "v", "type": "quantitative", "axis": null},
  "text": {"field": "label"}
 }
}
],
"resolve": {"axis": {"x": "independent", "y": "independent"}}
}
